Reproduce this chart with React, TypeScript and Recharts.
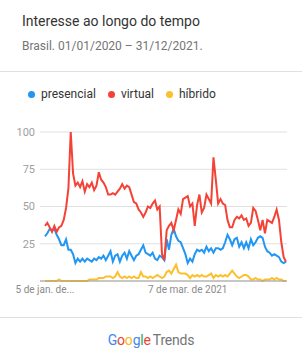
import { LineChart, Line, XAxis, YAxis, CartesianGrid } from "recharts";

// semanas de 05/01/2020 a 26/12/2021
const startWeek = new Date(Date.UTC(2020, 0, 5));
const weeks: string[] = Array.from({ length: 104 }, (_, i) =>
  new Date(startWeek.getTime() + i * 7 * 86400000).toISOString().slice(0, 10)
);

const presencial = [
  30, 32, 35, 34, 35, 31, 28, 24, 24, 28,
  21, 21, 18, 12, 15, 13, 15, 13, 15, 14,
  13, 15, 14, 16, 15, 17, 14, 17, 20, 13,
  17, 18, 13, 17, 19, 15, 20, 17, 14, 17,
  18, 21, 24, 19, 18, 17, 19, 15, 14, 17,
  16, 14, 28, 21, 31, 35, 30, 27, 26, 22,
  18, 12, 15, 13, 18, 21, 20, 21, 19, 23,
  20, 22, 19, 22, 22, 21, 22, 26, 31, 28,
  24, 28, 29, 23, 26, 22, 26, 22, 28, 24,
  26, 29, 30, 29, 23, 20, 19, 17, 18, 17,
  16, 13, 12, 13,
];

const virtual = [
  37, 39, 36, 33, 37, 33, 36, 37, 41, 49,
  62, 100, 72, 64, 66, 63, 67, 60, 65, 63,
  66, 61, 64, 73, 68, 66, 63, 58, 58, 59,
  58, 60, 62, 65, 62, 64, 63, 58, 53, 52,
  48, 46, 43, 46, 50, 49, 52, 54, 48, 50,
  18, 14, 34, 37, 39, 34, 41, 48, 45, 55,
  56, 57, 50, 52, 37, 51, 58, 46, 49, 58,
  55, 52, 83, 68, 52, 55, 52, 51, 41, 36,
  36, 41, 43, 42, 44, 41, 42, 37, 39, 49,
  47, 41, 34, 41, 32, 41, 40, 39, 43, 48,
  41, 26, 16, 13,
];

const hibrido = [
  0, 0, 0, 0, 0, 0, 1, 0, 0, 0,
  0, 0, 0, 0, 0, 0, 0, 0, 0, 1,
  1, 1, 1, 2, 2, 2, 3, 3, 3, 2,
  3, 6, 3, 2, 3, 2, 3, 2, 3, 2,
  2, 6, 3, 3, 2, 3, 2, 3, 4, 3,
  2, 3, 6, 7, 5, 8, 11, 6, 5, 5,
  5, 4, 2, 4, 3, 4, 3, 4, 3, 3,
  4, 5, 2, 4, 3, 4, 3, 4, 3, 5,
  7, 5, 3, 2, 3, 4, 4, 3, 1, 1,
  2, 1, 1, 0, 1, 1, 1, 2, 1, 2,
  1, 1, 0, 0,
];

const xTicks = ["2020-01-05", "2021-03-07"];
const xTickLabels: Record<string, string> = {
  "2020-01-05": "5 de jan. de...",
  "2021-03-07": "7 de mar. de 2021",
};
const yTicks = [0, 25, 50, 75, 100];

const series = [
  { key: "presencial", label: "presencial", color: "#2196f3" },
  { key: "virtual", label: "virtual", color: "#f44336" },
  { key: "hibrido", label: "híbrido", color: "#fbc02d" },
];

const data = weeks.map((week, i) => ({
  week,
  presencial: presencial[i],
  virtual: virtual[i],
  hibrido: hibrido[i],
}));

const font = "Roboto, 'Noto Sans', Arial, sans-serif";

export default function App() {
  return (
    <div
      style={{
        position: "absolute",
        left: 0,
        top: 0,
        width: 302,
        height: 364,
        background: "#fff",
        fontFamily: font,
        overflow: "hidden",
      }}
    >
      <div style={{ position: "absolute", left: 22, top: 13, fontSize: 14, color: "#333" }}>
        Interesse ao longo do tempo
      </div>
      <div style={{ position: "absolute", left: 22, top: 39, fontSize: 12, color: "#757575" }}>
        Brasil. 01/01/2020 – 31/12/2021.
      </div>
      <div style={{ position: "absolute", left: 0, top: 71, width: 302, height: 1, background: "#e0e0e0" }} />

      <div style={{ position: "absolute", left: 28, top: 87, display: "flex", fontSize: 12, color: "#333" }}>
        {series.map((s) => (
          <div key={s.key} style={{ display: "flex", alignItems: "center", marginRight: 12 }}>
            <span
              style={{
                width: 7,
                height: 7,
                borderRadius: "50%",
                background: s.color,
                display: "inline-block",
                marginRight: 6,
              }}
            />
            <span>{s.label}</span>
          </div>
        ))}
      </div>

      <div style={{ position: "absolute", left: 0, top: 120 }}>
        <LineChart width={302} height={185} data={data} margin={{ top: 12, right: 15, bottom: 0, left: 0 }}>
          <CartesianGrid vertical={false} stroke="#e0e0e0" />
          <XAxis
            dataKey="week"
            ticks={xTicks}
            interval={0}
            tickFormatter={(v) => xTickLabels[v] ?? ""}
            padding={{ left: 5, right: 1 }}
            height={24}
            tickLine={false}
            tickSize={0}
            tickMargin={5}
            axisLine={{ stroke: "#9e9e9e" }}
            tick={{ fill: "#8a8a8a", fontSize: 10, fontFamily: font }}
          />
          <YAxis
            domain={[0, 100]}
            ticks={yTicks}
            width={40}
            tickLine={false}
            axisLine={false}
            tickSize={4}
            tickMargin={1}
            tickFormatter={(v) => (v === 0 ? "" : String(v))}
            tick={{ fill: "#a0a0a0", fontSize: 11, fontFamily: font }}
          />
          {series.map((s) => (
            <Line
              key={s.key}
              type="linear"
              dataKey={s.key}
              stroke={s.color}
              strokeWidth={2}
              dot={false}
              isAnimationActive={false}
            />
          ))}
        </LineChart>
      </div>

      <div style={{ position: "absolute", left: 0, top: 317, width: 302, height: 1, background: "#e0e0e0" }} />
      <div
        style={{
          position: "absolute",
          left: 0,
          top: 332,
          width: 302,
          textAlign: "center",
          fontSize: 14,
          letterSpacing: -0.2,
        }}
      >
        <span style={{ color: "#4285f4" }}>G</span>
        <span style={{ color: "#ea4335" }}>o</span>
        <span style={{ color: "#fbbc05" }}>o</span>
        <span style={{ color: "#4285f4" }}>g</span>
        <span style={{ color: "#34a853" }}>l</span>
        <span style={{ color: "#ea4335" }}>e</span>
        <span style={{ color: "#757575", marginLeft: 2 }}>Trends</span>
      </div>
    </div>
  );
}
